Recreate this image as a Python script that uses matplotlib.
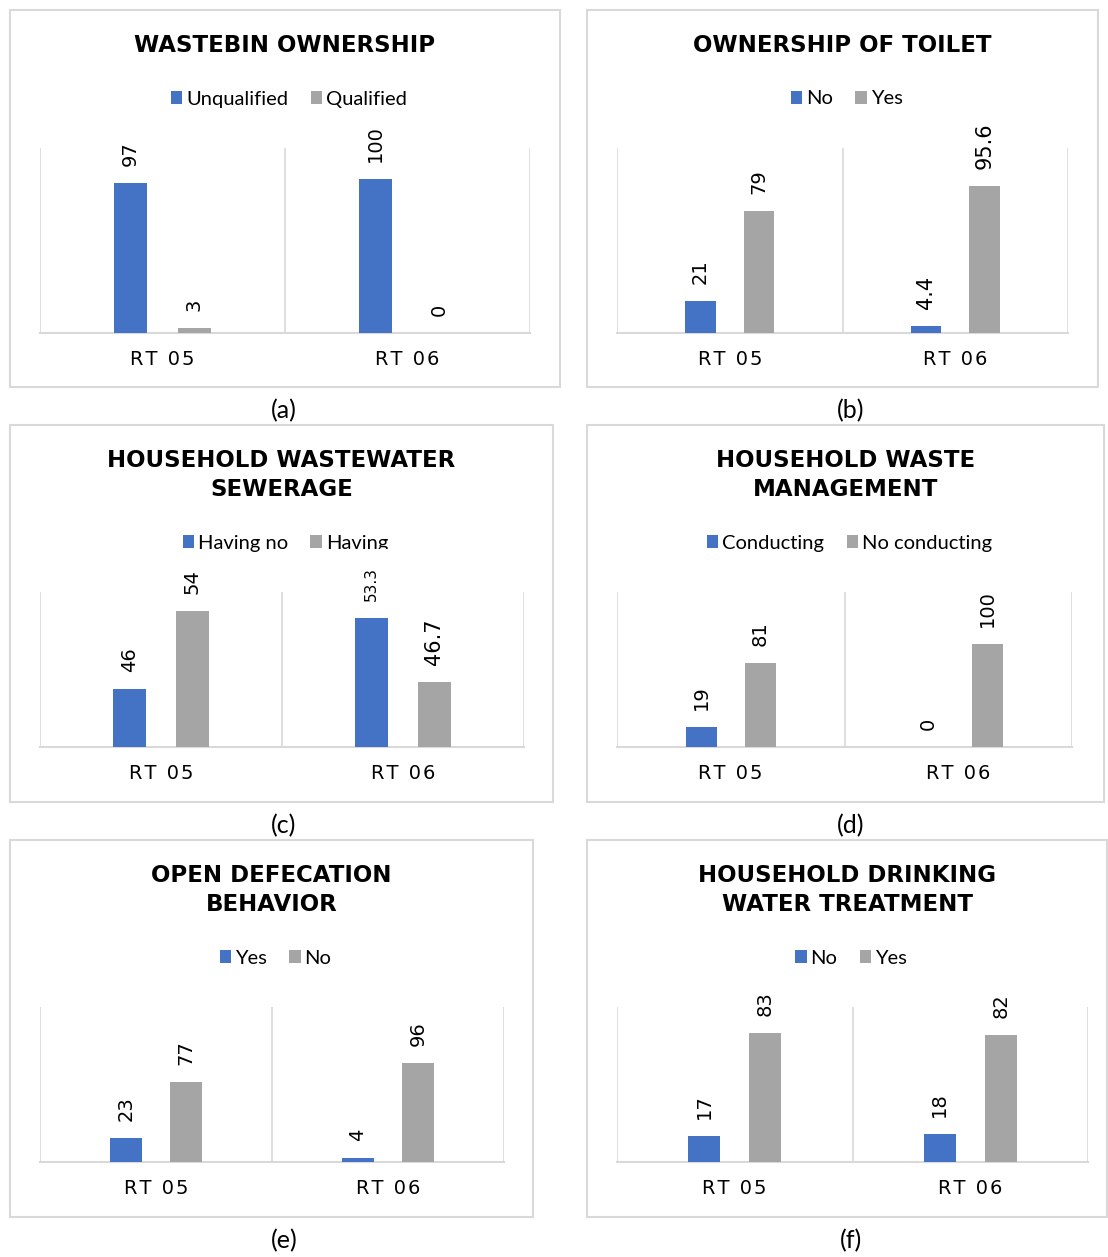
import matplotlib as mpl
mpl.use('Agg')

import matplotlib.pyplot as plt
import numpy as np
from matplotlib.patches import Rectangle
from matplotlib.transforms import Bbox

plt.rcParams['font.family'] = ['Lato', 'DejaVu Sans']

# data
areas = ['RT 05', 'RT 06']

wastebin_legend = ['Unqualified', 'Qualified']
wastebin_unqualified = [97, 100]
wastebin_qualified = [3, 0]

toilet_legend = ['No', 'Yes']
toilet_no = [21, 4.4]
toilet_yes = [79, 95.6]

sewerage_legend = ['Having no', 'Having']
sewerage_having_no = [46, 53.3]
sewerage_having = [54, 46.7]

waste_legend = ['Conducting', 'No conducting']
waste_conducting = [19, 0]
waste_not_conducting = [81, 100]

defecation_legend = ['Yes', 'No']
defecation_yes = [23, 4]
defecation_no = [77, 96]

drinking_legend = ['No', 'Yes']
drinking_no = [17, 18]
drinking_yes = [83, 82]

panels = [
    ('WASTEBIN OWNERSHIP', wastebin_legend, wastebin_unqualified, wastebin_qualified, (0, 120), '(a)'),
    ('OWNERSHIP OF TOILET', toilet_legend, toilet_no, toilet_yes, (0, 120), '(b)'),
    ('HOUSEHOLD WASTEWATER\nSEWERAGE', sewerage_legend, sewerage_having_no, sewerage_having, (40, 56), '(c)'),
    ('HOUSEHOLD WASTE\nMANAGEMENT', waste_legend, waste_conducting, waste_not_conducting, (0, 150), '(d)'),
    ('OPEN DEFECATION\nBEHAVIOR', defecation_legend, defecation_yes, defecation_no, (0, 150), '(e)'),
    ('HOUSEHOLD DRINKING\nWATER TREATMENT', drinking_legend, drinking_no, drinking_yes, (0, 100), '(f)'),
]

# pixel layout: frame box, plot area, title y, legend y, caption position
layout = [
    ((10, 10, 560, 387), (40, 148, 530, 333), 45, 98, (284, 411)),
    ((587, 10, 1098, 387), (617, 148, 1068, 333), 45, 98, (851, 411)),
    ((10, 425, 553, 802), (40, 592, 524, 747), 475, 542, (284, 826)),
    ((587, 425, 1104, 802), (617, 592, 1072, 747), 475, 542, (851, 826)),
    ((10, 840, 533, 1217), (40, 1007, 504, 1162), 890, 957, (284, 1241)),
    ((587, 840, 1107, 1217), (617, 1007, 1088, 1162), 890, 957, (851, 1241)),
]

W, H = 1108, 1257
BLUE = '#4472C4'
GREY = '#A5A5A5'
LINE = '#D9D9D9'
HAIR = '\u200a'


def fx(x):
    return x / W


def fy(y):
    return 1 - y / H


def spaced(s):
    return '\n'.join(HAIR.join(line) for line in s.split('\n'))


def label_size(v):
    # decimal labels came out a bit larger, 53.3 shrunk to fit
    if v == 53.3:
        return 11
    return 14 if float(v).is_integer() else 15


fig = plt.figure(figsize=(W / 100, H / 100), dpi=100)

x = np.arange(len(areas))
width = 0.136
off = 0.13

for (title, names, s1, s2, ylim, cap), (box, area, ty, ly, cpos) in zip(panels, layout):
    l, t, r, b = box
    fig.add_artist(Rectangle((fx(l), fy(b)), (r - l) / W, (b - t) / H,
                             transform=fig.transFigure, fill=False, ec=LINE, lw=1.5))
    cx = (l + r) / 2

    al, at, ar, ab = area
    ax = fig.add_axes([fx(al), fy(ab), (ar - al) / W, (ab - at) / H])
    b1 = ax.bar(x - off, s1, width, color=BLUE, zorder=3)
    b2 = ax.bar(x + off, s2, width, color=GREY, zorder=3)
    ax.set_xlim(-0.5, 1.5)
    ax.set_ylim(*ylim)
    for xv in (-0.5, 0.5, 1.5):
        ax.axvline(xv, color=LINE, lw=1.2, zorder=1)
    for side in ('left', 'right', 'top'):
        ax.spines[side].set_visible(False)
    ax.spines['bottom'].set_color(LINE)
    ax.spines['bottom'].set_linewidth(1.5)
    ax.set_yticks([])
    ax.set_xticks(x)
    ax.set_xticklabels([spaced(a) for a in areas], family=['DejaVu Sans'], fontsize=14)
    ax.tick_params(axis='x', length=0, pad=12)

    for xs, vals in ((x - off, s1), (x + off, s2)):
        for xv, v in zip(xs, vals):
            ax.annotate(f'{v:g}', (xv, v), xytext=(0, 17), textcoords='offset pixels',
                        rotation=90, ha='center', va='bottom', fontsize=label_size(v),
                        family=['DejaVu Sans'], annotation_clip=False)

    fig.text(fx(cx), fy(ty), title, ha='center', va='center',
             fontsize=16.5, fontweight='bold', linespacing=1.3,
             family=['DejaVu Sans'])

    leg = fig.legend([b1, b2], names, loc='center', bbox_to_anchor=(fx(cx + 4), fy(ly + 1)),
                     ncol=2, frameon=False, fontsize=14.5, handlelength=0.57,
                     handleheight=0.57, handletextpad=0.2, columnspacing=1.1,
                     borderpad=0, borderaxespad=0)
    if cap == '(c)':
        # second legend entry is cut off at the bottom
        txt = leg.get_texts()[1]
        txt.set_clip_box(Bbox.from_extents(0, fy(549) * H, W, H))
        txt.set_clip_on(True)

    fig.text(fx(cpos[0]), fy(cpos[1]), cap, ha='center', va='center', fontsize=18)

plt.savefig('out.png', dpi=100)
plt.close()
